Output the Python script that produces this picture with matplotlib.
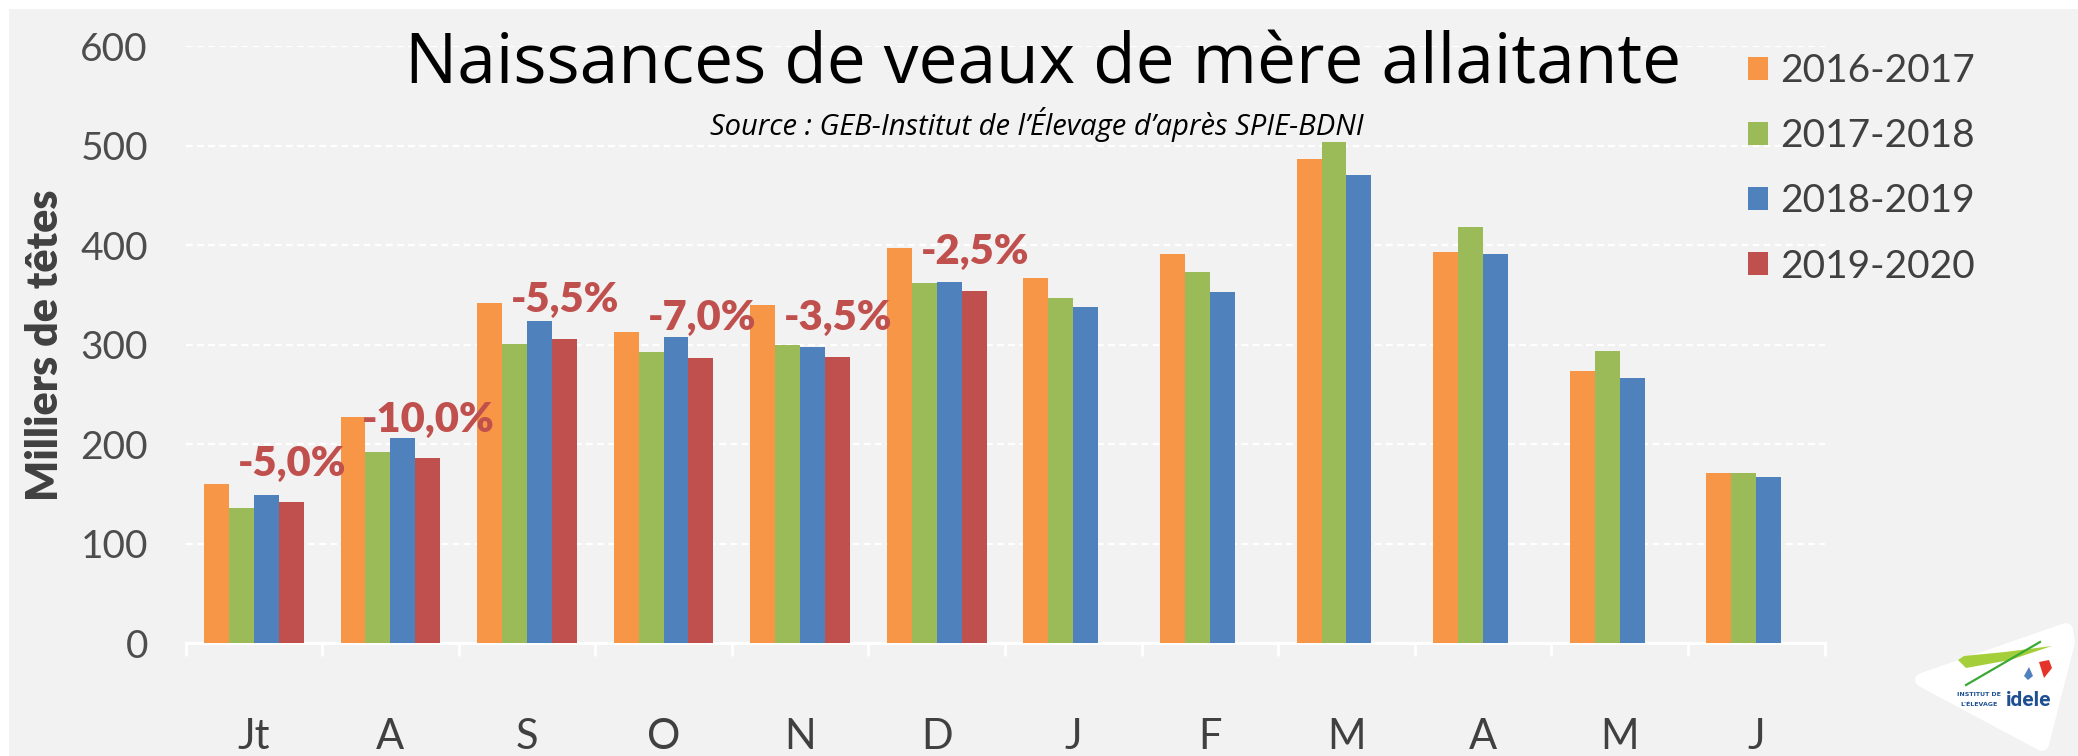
import matplotlib

matplotlib.use("Agg")
import matplotlib.pyplot as plt
from matplotlib.lines import Line2D
from matplotlib.patches import Patch, Polygon, Rectangle
import numpy as np

FIG_W, FIG_H = 2078, 756

MONTHS = ["Jt", "A", "S", "O", "N", "D", "J", "F", "M", "A", "M", "J"]
SEASONS = ["2016-2017", "2017-2018", "2018-2019", "2019-2020"]
BIRTHS_2016_17 = [160, 227, 342, 313, 340, 397, 367, 391, 487, 393, 274, 171]
BIRTHS_2017_18 = [136, 192, 301, 293, 300, 362, 347, 373, 504, 418, 294, 171]
BIRTHS_2018_19 = [149, 206, 324, 308, 298, 363, 338, 353, 471, 391, 267, 167]
BIRTHS_2019_20 = [142, 186, 306, 287, 288, 354]
CHANGE_LABELS = ["-5,0%", "-10,0%", "-5,5%", "-7,0%", "-3,5%", "-2,5%"]

COLORS = ["#f79646", "#9bbb59", "#4f81bd", "#c0504d"]
TEXT_GREY = "#404040"
PANEL_GREY = "#f2f2f2"

# where each change label sits (y in data units, x relative to month centre)
CHANGE_Y = [180, 224, 345, 327, 327, 393]
CHANGE_DX = 0.28


def px(x, y):
    """Pixel position (from top-left) to figure fraction."""
    return x / FIG_W, 1 - y / FIG_H


fig = plt.figure(figsize=(FIG_W / 100, FIG_H / 100), dpi=100)
fig.patch.set_facecolor("white")
fig.patches.append(
    Rectangle(px(9, FIG_H), 1, 1 - 9 / FIG_H, transform=fig.transFigure,
              facecolor=PANEL_GREY, edgecolor="none", zorder=-5)
)

ax = fig.add_axes([185.5 / FIG_W, (FIG_H - 643.3) / FIG_H, 1639 / FIG_W, 597 / FIG_H])
ax.patch.set_alpha(0)

series = [BIRTHS_2016_17, BIRTHS_2017_18, BIRTHS_2018_19, BIRTHS_2019_20]
bar_w = 0.1825
for k, (values, color) in enumerate(zip(series, COLORS)):
    x = np.arange(len(values)) + (k - 1.5) * bar_w
    ax.bar(x, values, width=bar_w, color=color, edgecolor="none", zorder=3)

for i, (label, y) in enumerate(zip(CHANGE_LABELS, CHANGE_Y)):
    ax.text(i + CHANGE_DX, y, label, ha="center", va="center",
            fontsize=30, fontweight="heavy", family="Lato",
            color="#c0504d", zorder=4)

ax.set_xlim(-0.5, len(MONTHS) - 0.5)
ax.set_ylim(0, 600)
ax.set_yticks(range(0, 601, 100))
ax.set_xticks(range(len(MONTHS)))
ax.set_xticklabels(MONTHS)
ax.set_xticks(np.arange(-0.5, len(MONTHS)), minor=True)

ax.yaxis.grid(True, color="white", linestyle=(0, (3, 2)), linewidth=1.6, zorder=1)
ax.set_axisbelow(True)
for side in ("top", "right", "left"):
    ax.spines[side].set_visible(False)
ax.spines["bottom"].set_color("white")
ax.spines["bottom"].set_linewidth(2.2)

ax.tick_params(axis="y", length=0, pad=27, labelsize=28, labelcolor="#4d4d4d")
ax.tick_params(axis="x", which="major", length=0, pad=54, labelsize=30, labelcolor=TEXT_GREY)
ax.tick_params(axis="x", which="minor", length=9, width=2, color="white", direction="out")
for lbl in ax.get_xticklabels() + ax.get_yticklabels():
    lbl.set_family("Lato")

ax.set_ylabel("Milliers de têtes", fontsize=31, fontweight="heavy",
              family="Lato", color=TEXT_GREY, va="center")
ax.yaxis.set_label_coords(-0.0857, 0.5)

handles = [Patch(facecolor=c, edgecolor="none") for c in COLORS]
leg = fig.legend(handles, SEASONS, loc="upper left", bbox_to_anchor=px(1748, 53),
                 frameon=False, borderpad=0, borderaxespad=0,
                 handlelength=0.52, handleheight=0.52, handletextpad=0.3,
                 labelspacing=0.75, prop={"family": "Lato", "size": 28})
for t in leg.get_texts():
    t.set_color(TEXT_GREY)

fig.text(*px(1043, 66), "Naissances de veaux de mère allaitante",
         ha="center", va="center", fontsize=50, family="Open Sans", color="black")
fig.text(*px(1037, 125), "Source : GEB-Institut de l’Élevage d’après SPIE-BDNI",
         ha="center", va="center", fontsize=21, family="Open Sans",
         style="italic", color="black")

# institute logo, bottom-right corner
logo_shape = Polygon([px(1922, 680), px(2066, 630), px(2068, 642), px(2042, 744)],
                     closed=True, transform=fig.transFigure, facecolor="white",
                     edgecolor="white", linewidth=10, joinstyle="round", zorder=5)
fig.patches.append(logo_shape)
leaf = Polygon([px(1958, 660), px(1964, 656), px(2005, 652), px(2052, 646),
                px(2010, 660), px(1966, 668)], closed=True,
               transform=fig.transFigure, facecolor="#a5cf3a", edgecolor="none", zorder=6)
fig.patches.append(leaf)
fig.lines.append(Line2D(*zip(px(1966, 685), px(2040, 642)), transform=fig.transFigure,
                        color="#3aa935", linewidth=1.6, zorder=7))
fig.patches.append(Polygon([px(2039, 662), px(2049, 660), px(2052, 668), px(2044, 678)],
                           closed=True, transform=fig.transFigure,
                           facecolor="#e5332a", edgecolor="none", zorder=6))
fig.patches.append(Polygon([px(2029, 667), px(2033, 676), px(2028, 680), px(2024, 676)],
                           closed=True, transform=fig.transFigure,
                           facecolor="#4f81bd", edgecolor="none", zorder=6))
fig.text(*px(1979, 695), "INSTITUT DE", ha="center", va="center", fontsize=4.5,
         fontweight="bold", color="#1d4f91", family="DejaVu Sans", zorder=7)
fig.text(*px(1979, 704), "L'ÉLEVAGE", ha="center", va="center", fontsize=4.5,
         fontweight="bold", color="#1d4f91", family="DejaVu Sans", zorder=7)
fig.text(*px(2029, 700), "idele", ha="center", va="center", fontsize=15,
         fontweight="bold", color="#1d4f91", family="Roboto", zorder=7)

fig.savefig("out.png", dpi=100, facecolor=fig.get_facecolor())
